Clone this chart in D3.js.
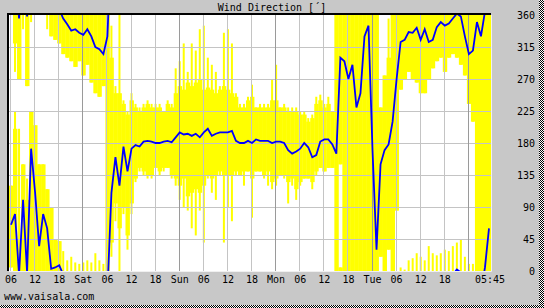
<!DOCTYPE html>
<html>
<head>
<meta charset="utf-8">
<script src="https://cdn.jsdelivr.net/npm/d3@7"></script>
<style>
body { margin: 0; background: #c8c8c8; }
text { font-family: "DejaVu Sans Mono", monospace; font-size: 10px; fill: #000; }
</style>
</head>
<body>
<svg id="chart" width="544" height="308"></svg>
<script>
// 5 days of hourly values, Fri 05:45 -> Wed 05:45
const startTime = new Date(2012, 4, 4, 5, 45);
const endTime = new Date(2012, 4, 9, 5, 45);

// hourly mean wind direction (deg)
const dirAvg = [65,80,355,100,358,172,110,35,80,60,
  3,5,8,355,347,338,340,335,332,340,
  330,315,312,305,330,110,160,120,175,140,
  172,177,175,182,183,182,180,180,182,183,
  181,188,195,192,193,190,193,188,195,200,
  190,193,195,195,195,197,183,180,180,183,
  180,185,183,183,183,180,182,182,180,170,
  165,168,172,180,174,160,163,182,185,185,
  178,165,300,295,270,290,230,250,330,345,
  170,30,150,170,178,210,270,322,325,336,
  335,342,325,340,322,325,343,350,345,348,
  355,2,358,330,305,310,350,330,5,60];

// hourly extreme range (may run past 0/360, wraps round)
const dirMin = [5,-80,-90,-20,-100,-10,0,0,0,-20,
  -30,-35,-40,-55,-60,-65,-73,-65,-85,-70,
  -95,-110,-115,-100,0,20,70,0,80,30,
  80,125,140,135,130,130,145,135,140,145,
  130,120,100,90,85,60,50,85,40,130,
  110,100,135,40,90,70,135,135,120,140,
  75,140,140,130,120,115,120,135,130,95,
  120,100,120,130,130,115,135,145,140,145,
  145,0,150,0,0,0,0,0,0,0,
  0,0,20,0,30,0,85,255,270,280,
  270,265,250,250,270,285,295,300,280,300,
  305,300,290,275,235,210,0,0,0,0];
const dirMax = [120,225,200,150,130,225,205,150,150,115,
  90,45,42,28,15,20,12,10,12,15,
  12,25,15,10,360,345,260,360,240,225,
  250,235,230,235,240,235,235,235,225,240,
  235,285,295,320,280,320,310,340,345,300,
  290,280,260,335,340,320,250,235,235,245,
  262,230,235,235,235,270,290,230,235,230,
  230,230,225,225,215,220,245,248,235,245,
  225,360,365,360,360,360,360,360,360,360,
  360,360,230,275,355,360,360,365,362,375,
  378,385,380,375,395,385,382,385,390,388,
  395,400,405,380,370,370,360,360,360,360];

// hourly dense core of the range
const coreMin = [5,-40,-90,0,-100,0,0,0,0,0,
  -30,-35,-40,-55,-60,-65,-73,-65,-85,-70,
  -95,-110,-115,-100,0,40,95,60,90,50,
  95,130,145,140,135,135,145,140,145,145,
  135,130,120,130,105,110,115,110,120,135,
  130,135,140,135,135,135,140,135,140,140,
  130,140,140,135,140,125,130,135,135,125,
  130,115,125,130,130,125,140,145,140,145,
  145,0,150,0,0,0,0,0,0,0,
  0,0,20,0,30,0,85,255,270,280,
  270,265,250,250,270,285,295,300,280,300,
  305,300,290,275,235,210,0,0,0,0];
const coreMax = [120,200,45,150,100,225,205,150,150,115,
  90,45,42,0,0,0,0,0,0,0,
  0,0,0,0,360,300,250,250,235,220,
  240,230,225,230,235,230,230,230,225,235,
  230,250,260,255,265,260,265,270,255,258,
  255,250,255,260,255,250,245,230,230,240,
  245,230,230,230,230,240,240,230,230,225,
  225,225,220,220,210,215,235,240,230,235,
  225,360,365,360,360,360,360,360,360,360,
  360,360,230,275,300,360,360,360,360,360,
  360,360,360,360,360,360,360,360,360,360,
  360,360,360,360,360,360,360,360,360,360];

const yTicks = [0, 45, 90, 135, 180, 225, 270, 315, 360];
const endLabel = "05:45";

const svg = d3.select("#chart");
const W = 544, H = 308;
const plot = { left: 9, right: 491, top: 15, bottom: 271 };

// dither pattern for the drop shadow
const defs = svg.append("defs");
const pat = defs.append("pattern").attr("id", "dither")
  .attr("width", 2).attr("height", 2).attr("patternUnits", "userSpaceOnUse");
pat.append("rect").attr("width", 2).attr("height", 2).attr("fill", "#fff");
pat.append("rect").attr("width", 1).attr("height", 1).attr("fill", "#000");
pat.append("rect").attr("x", 1).attr("y", 1).attr("width", 1).attr("height", 1).attr("fill", "#000");
defs.append("clipPath").attr("id", "plotclip").append("rect")
  .attr("x", plot.left).attr("y", plot.top)
  .attr("width", plot.right - plot.left).attr("height", plot.bottom - plot.top);

svg.append("rect").attr("width", W).attr("height", H).attr("fill", "#c8c8c8");
svg.append("rect").attr("x", W - 5).attr("y", 0).attr("width", 5).attr("height", H).attr("fill", "url(#dither)");
svg.append("rect").attr("x", 0).attr("y", H - 3).attr("width", W).attr("height", 3).attr("fill", "url(#dither)");

const x = d3.scaleTime().domain([startTime, endTime]).range([plot.left, plot.right]);
const y = d3.scaleLinear().domain([0, 360]).range([plot.bottom, plot.top]);

svg.append("rect")
  .attr("x", plot.left).attr("y", plot.top)
  .attr("width", plot.right - plot.left).attr("height", plot.bottom - plot.top)
  .attr("fill", "#fff");

const g = svg.append("g").attr("clip-path", "url(#plotclip)");
const hourAt = i => d3.timeMinute.offset(startTime, i * 60);
const shifts = [-360, 0, 360];

// yellow range bars: core as full-width bars, extremes as thin spikes
const bars = [];
dirAvg.forEach((_, i) => shifts.forEach(k => bars.push({ i, k })));
g.selectAll("rect.core").data(bars).join("rect")
  .attr("class", "core")
  .attr("fill", "#ffff00")
  .attr("x", d => x(hourAt(d.i)))
  .attr("width", d => x(hourAt(d.i + 1)) - x(hourAt(d.i)) + 0.4)
  .attr("y", d => y(coreMax[d.i] + d.k))
  .attr("height", d => Math.max(0, y(coreMin[d.i] + d.k) - y(coreMax[d.i] + d.k)));
g.selectAll("rect.spike").data(bars).join("rect")
  .attr("class", "spike")
  .attr("fill", "#ffff00")
  .attr("x", d => x(hourAt(d.i + 0.5)) - 1)
  .attr("width", 2)
  .attr("y", d => y(dirMax[d.i] + d.k))
  .attr("height", d => Math.max(0, y(dirMin[d.i] + d.k) - y(dirMax[d.i] + d.k)));

// grid
const gridTimes = d3.timeHour.every(6).range(startTime, endTime);
svg.append("g").selectAll("line").data(yTicks.slice(1, -1)).join("line")
  .attr("x1", plot.left).attr("x2", plot.right)
  .attr("y1", d => y(d) + 0.5).attr("y2", d => y(d) + 0.5)
  .attr("stroke", "#c4c4c4");
svg.append("g").selectAll("line").data(gridTimes).join("line")
  .attr("x1", d => Math.round(x(d)) + 0.5).attr("x2", d => Math.round(x(d)) + 0.5)
  .attr("y1", plot.top).attr("y2", plot.bottom)
  .attr("stroke", d => d.getHours() === 0 ? "#9a9a9a" : "#c4c4c4");

// blue mean line, unwrapped then drawn with +-360 copies
const unwrapped = [];
dirAvg.forEach((d, i) => {
  if (i === 0) { unwrapped.push(d); return; }
  const prev = unwrapped[i - 1];
  const delta = (((d - prev) % 360) + 540) % 360 - 180;
  unwrapped.push(prev + delta);
});
const line = k => d3.line()
  .x((d, i) => x(hourAt(i + 0.5)))
  .y(d => y(d + k));
svg.append("g").attr("clip-path", "url(#plotclip)")
  .selectAll("path").data([-720, -360, 0, 360]).join("path")
  .attr("d", k => line(k)(unwrapped))
  .attr("fill", "none").attr("stroke", "#0000ff").attr("stroke-width", 1.8);

// plot frame
svg.append("path").attr("d", `M${plot.left - 1},${plot.bottom}V${plot.top - 1}H${plot.right}`)
  .attr("fill", "none").attr("stroke", "#000").attr("stroke-width", 2);
svg.append("path").attr("d", `M${plot.left},${plot.bottom + 0.5}H${plot.right + 0.5}V${plot.top}`)
  .attr("fill", "none").attr("stroke", "#f0f0f0").attr("stroke-width", 1);

// right axis labels
svg.append("g").selectAll("text").data(yTicks).join("text")
  .attr("x", 535).attr("y", d => y(d) + 4)
  .attr("text-anchor", "end").text(d => d);

// time labels
const fmtDay = d3.timeFormat("%a"), fmtHour = d3.timeFormat("%H");
svg.append("g").selectAll("text")
  .data(gridTimes.filter(d => x(d) < plot.right - 30)).join("text")
  .attr("x", d => x(d) + 1).attr("y", 283)
  .attr("text-anchor", "middle")
  .text(d => d.getHours() === 0 ? fmtDay(d) : fmtHour(d));
svg.append("text").attr("x", plot.right - 1).attr("y", 283)
  .attr("text-anchor", "middle").text(endLabel);

svg.append("text").attr("x", 272).attr("y", 11).attr("text-anchor", "middle")
  .text("Wind Direction [\u00b4]");
svg.append("text").attr("x", 4).attr("y", 300).text("www.vaisala.com");
</script>
</body>
</html>
